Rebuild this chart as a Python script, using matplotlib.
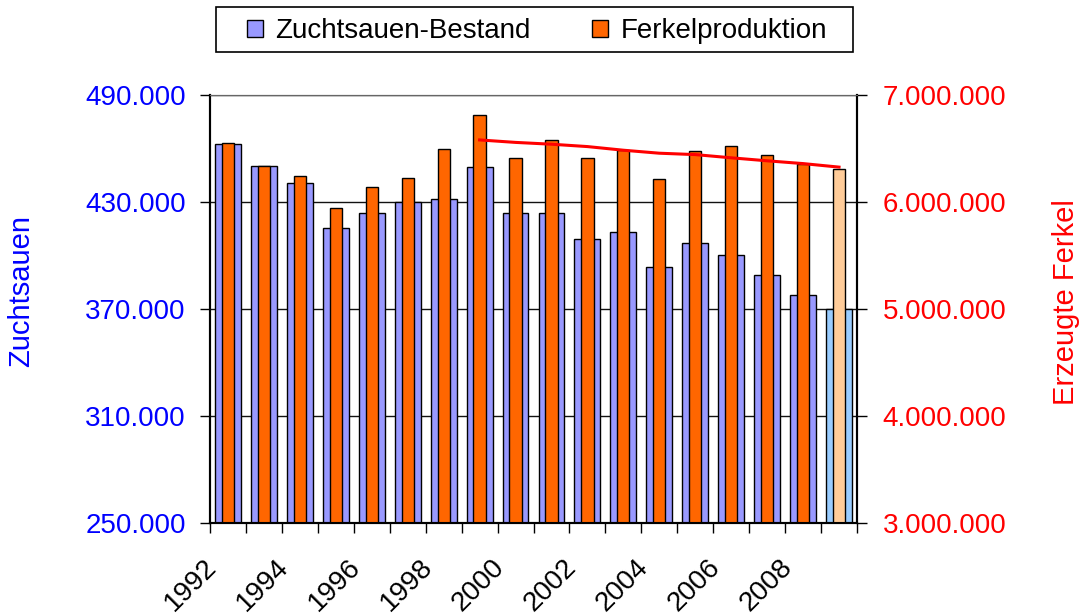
import matplotlib
matplotlib.use("Agg")
import matplotlib.pyplot as plt
import matplotlib.transforms as mtransforms
import numpy as np
from matplotlib.patches import Patch, Rectangle

plt.rcParams['font.family'] = ['Liberation Sans', 'DejaVu Sans']

years = list(range(1992, 2010))
sows = [462400, 450300, 440900, 415600, 424000, 430000, 431800, 449500, 424000,
        424000, 409400, 413000, 393400, 407000, 400300, 389300, 378100, 370000]
piglets = [6555000, 6338000, 6242000, 5944000, 6142000, 6226000, 6496000, 6811000, 6413000,
           6580000, 6413000, 6487000, 6214000, 6481000, 6524000, 6441000, 6357000, 6313000]
trend_years = list(range(1999, 2010))
trend = [6580000, 6557000, 6540000, 6518000, 6484000, 6456000, 6443000, 6413000, 6385000, 6359000, 6326000]
tick_labels = [str(y) for y in range(1992, 2010, 2)]

blue_cols = ["#9999FF"] * (len(years) - 1) + ["#99CCFF"]
orange_cols = ["#FF6600"] * (len(years) - 1) + ["#FFCC99"]

W, H = 1089, 615
fig = plt.figure(figsize=(W / 100, H / 100), dpi=100)
ax = fig.add_axes([210 / W, 1 - 523 / H, (857 - 210) / W, (523 - 95) / H])
ax2 = ax.twinx()

x = np.arange(len(years))
ax.bar(x, sows, width=0.72, color=blue_cols, edgecolor="black", linewidth=1, zorder=2)
ax2.bar(x, piglets, width=0.34, color=orange_cols, edgecolor="black", linewidth=1, zorder=2)
tx = np.array([years.index(y) for y in trend_years])
ax2.plot(tx, trend, color="#FF0000", linewidth=2.2, zorder=3)

ax.set_xlim(-0.5, len(years) - 0.5)
ax.set_ylim(250000, 490000)
ax2.set_ylim(3000000, 7000000)
ax.set_yticks(np.arange(250000, 490001, 60000))
ax2.set_yticks(np.arange(3000000, 7000001, 1000000))

def de_fmt(v):
    return f"{int(v):,}".replace(",", ".")

ax.set_yticklabels([de_fmt(v) for v in ax.get_yticks()], color="#0000FF", fontsize=20)
ax2.set_yticklabels([de_fmt(v) for v in ax2.get_yticks()], color="#FF0000", fontsize=20)

ax.yaxis.grid(True, color="#111111", linewidth=1)
ax.set_axisbelow(True)

ax.set_xticks(np.arange(0, len(years), 2))
ax.set_xticklabels(tick_labels, rotation=45, ha="right", va="center",
                   rotation_mode="anchor", fontsize=20)
ax.set_xticks(np.arange(-0.5, len(years), 1), minor=True)
ax.tick_params(axis="x", which="major", length=0, pad=29)
ax.tick_params(axis="x", which="minor", length=7.5, width=1, direction="out")
ax.tick_params(axis="y", length=7.5, width=1, direction="out", pad=10)
ax2.tick_params(axis="y", length=7.5, width=1, direction="out", pad=11)

offset = mtransforms.ScaledTranslation(-15 / 100, 0, fig.dpi_scale_trans)
for lab in ax.get_xticklabels():
    lab.set_transform(lab.get_transform() + offset)

for s in ["left", "bottom", "right"]:
    for a in (ax, ax2):
        a.spines[s].set_color("black")
        a.spines[s].set_linewidth(1.5)
ax.spines["top"].set_color("#666666")
ax2.spines["top"].set_color("#666666")

ax.set_ylabel("Zuchtsauen", color="#0000FF", fontsize=21)
ax.yaxis.label.set_va("center")
ax.yaxis.set_label_coords((21.5 - 210) / 647, (523 - 291) / 428)
ax2.set_ylabel("Erzeugte Ferkel", color="#FF0000", fontsize=21)
ax2.yaxis.label.set_va("center")
ax2.yaxis.set_label_coords((1065.5 - 210) / 647, (523 - 302) / 428)

# legend frame
fig.add_artist(Rectangle((216 / W, 1 - 52 / H), (853 - 216) / W, 45 / H,
                         transform=fig.transFigure, facecolor="white",
                         edgecolor="black", linewidth=1.2))
handles = [Patch(facecolor="#9999FF", edgecolor="black", linewidth=1),
           Patch(facecolor="#FF6600", edgecolor="black", linewidth=1)]
leg = fig.legend(handles, ["Zuchtsauen-Bestand", "Ferkelproduktion"], ncol=2,
                 loc="center", bbox_to_anchor=(537 / W, 1 - 31 / H),
                 fontsize=20, frameon=False, handlelength=0.57,
                 handleheight=0.57, handletextpad=0.45, columnspacing=2.2,
                 borderpad=0.2)

fig.savefig("out.png", dpi=100)
